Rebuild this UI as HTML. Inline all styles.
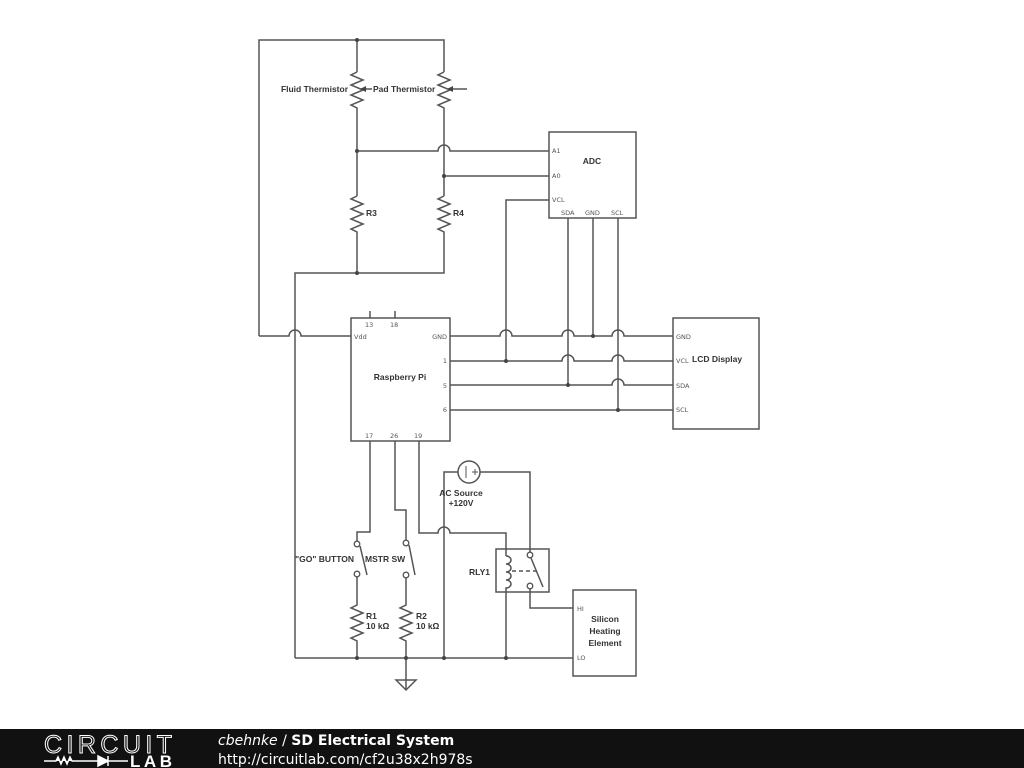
<!DOCTYPE html>
<html><head><style>
body{margin:0;width:1024px;height:768px;overflow:hidden;background:#fff;font-family:"Liberation Sans",sans-serif}
svg{position:absolute;left:0;top:0}
</style></head><body>
<svg width="1024" height="768" viewBox="0 0 1024 768">
<g stroke="#555" stroke-width="1.5" fill="none">
<path d="M259 336V40H444V72"/>
<path d="M357 40V72"/>
<path d="M357 72l-6 3l12 5l-12 5l12 5l-12 5l12 5l-12 5l6 3V196"/>
<path d="M444 72l-6 3l12 5l-12 5l12 5l-12 5l12 5l-12 5l6 3V196"/>
<path d="M372 89H361M467 89H448"/>
<path d="M357 151H438a6 6 0 0 1 12 0H549M444 176H549"/>
<path d="M357 196l-6 3l12 5l-12 5l12 5l-12 5l12 5l-12 5l6 3V273"/>
<path d="M444 196l-6 3l12 5l-12 5l12 5l-12 5l12 5l-12 5l6 3V273H295V658"/>
<path d="M259 336H289a6 6 0 0 1 12 0H351"/>
<rect x="549" y="132" width="87" height="86"/>
<path d="M549 200H506V361M568 218V385M593 218V336M618 218V410"/>
<rect x="351" y="318" width="99" height="123"/>
<path d="M370 311V318M395 311V318"/>
<path d="M450 336H500a6 6 0 0 1 12 0H562a6 6 0 0 1 12 0H612a6 6 0 0 1 12 0H673"/>
<path d="M450 361H562a6 6 0 0 1 12 0H612a6 6 0 0 1 12 0H673"/>
<path d="M450 385H612a6 6 0 0 1 12 0H673"/>
<path d="M450 410H673"/>
<rect x="673" y="318" width="86" height="111"/>
<path d="M370 441V532H357V541"/>
<path d="M395 441V510H406V540"/>
<path d="M419 441V533H438a6 6 0 0 1 12 0H506V556"/>
<path d="M360 546L367 575M409 545L415 575"/>
<path d="M357 577V605l-6 3l12 5l-12 5l12 5l-12 5l12 5l-12 5l6 3V658"/>
<path d="M406 578V605l-6 3l12 5l-12 5l12 5l-12 5l12 5l-12 5l6 3V690"/>
<path d="M396 680H416L406 690Z"/>
<path d="M295 658H573"/>
<path d="M458 472H444V658M480 472H530V552"/>
<circle cx="469" cy="472" r="11"/>
<path d="M466 466V478M472 472H478M475 469V475" stroke-width="1"/>
<rect x="496" y="549" width="53" height="43"/>
<path d="M506 556a5 4 0 0 1 0 8a5 4 0 0 1 0 8a5 4 0 0 1 0 8a5 4 0 0 1 0 8V658"/>
<path d="M512 571H540" stroke-dasharray="4,3"/>
<path d="M531 558L543 587"/>
<path d="M530 589V608H573"/>
<rect x="573" y="590" width="63" height="86"/>
</g>
<g fill="#fff" stroke="#555" stroke-width="1.3">
<circle cx="357" cy="544" r="2.8"/><circle cx="357" cy="574" r="2.8"/>
<circle cx="406" cy="543" r="2.8"/><circle cx="406" cy="575" r="2.8"/>
<circle cx="530" cy="555" r="2.8"/><circle cx="530" cy="586" r="2.8"/>
</g>
<g fill="#444">
<circle cx="357" cy="40" r="2"/><circle cx="357" cy="151" r="2"/><circle cx="444" cy="176" r="2"/>
<circle cx="357" cy="273" r="2"/><circle cx="506" cy="361" r="2"/><circle cx="568" cy="385" r="2"/>
<circle cx="593" cy="336" r="2"/><circle cx="618" cy="410" r="2"/>
<circle cx="357" cy="658" r="2"/><circle cx="406" cy="658" r="2"/><circle cx="444" cy="658" r="2"/><circle cx="506" cy="658" r="2"/>
<path d="M360 89l6-3v6z"/><path d="M447 89l6-3v6z"/>
</g>
<g font-family="Liberation Sans,sans-serif" font-size="8.5" font-weight="bold" fill="#333">
<text x="348" y="92" text-anchor="end">Fluid Thermistor</text>
<text x="373" y="92">Pad Thermistor</text>
<text x="366" y="216">R3</text><text x="453" y="216">R4</text>
<text x="592" y="164" text-anchor="middle">ADC</text>
<text x="400" y="380" text-anchor="middle">Raspberry Pi</text>
<text x="692" y="362">LCD Display</text>
<text x="461" y="496" text-anchor="middle">AC Source</text>
<text x="461" y="506" text-anchor="middle">+120V</text>
<text x="354" y="562" text-anchor="end">"GO" BUTTON</text>
<text x="365" y="562">MSTR SW</text>
<text x="490" y="575" text-anchor="end">RLY1</text>
<text x="366" y="619">R1</text><text x="366" y="629">10 kΩ</text>
<text x="416" y="619">R2</text><text x="416" y="629">10 kΩ</text>
<text x="605" y="622" text-anchor="middle">Silicon</text>
<text x="605" y="634" text-anchor="middle">Heating</text>
<text x="605" y="646" text-anchor="middle">Element</text>
</g>
<g font-family="DejaVu Sans,sans-serif" font-size="6.5" fill="#555">
<text x="552" y="153">A1</text><text x="552" y="178">A0</text><text x="552" y="202">VCL</text>
<text x="561" y="215">SDA</text><text x="585" y="215">GND</text><text x="611" y="215">SCL</text>
<text x="365" y="327">13</text><text x="390" y="327">18</text>
<text x="354" y="339">Vdd</text><text x="447" y="339" text-anchor="end">GND</text>
<text x="447" y="363" text-anchor="end">1</text><text x="447" y="388" text-anchor="end">5</text><text x="447" y="412" text-anchor="end">6</text>
<text x="365" y="438">17</text><text x="390" y="438">26</text><text x="414" y="438">19</text>
<text x="676" y="339">GND</text><text x="676" y="363">VCL</text><text x="676" y="388">SDA</text><text x="676" y="412">SCL</text>
<text x="577" y="611">HI</text><text x="577" y="660">LO</text>
</g>
<rect x="0" y="729" width="1024" height="39" fill="#111"/>
<text x="44" y="753" font-family="Liberation Sans,sans-serif" font-size="25" fill="none" stroke="#fff" stroke-width="1" textLength="128" lengthAdjust="spacing">CIRCUIT</text>
<path d="M44 761H56l2-4l3 7l3-7l3 7l3-7l2 4H98M98 756v10l10-5z M108 756v10M108 761H128" stroke="#fff" stroke-width="1.5" fill="#fff"/>
<text x="130" y="767" font-family="Liberation Sans,sans-serif" font-size="17" font-weight="bold" fill="#fff" textLength="42">LAB</text>
<text x="218" y="745" font-family="DejaVu Sans,sans-serif" font-size="14" fill="#fff"><tspan font-style="italic">cbehnke</tspan> / <tspan font-weight="bold">SD Electrical System</tspan></text>
<text x="218" y="764" font-family="DejaVu Sans,sans-serif" font-size="14" fill="#fff">http://circuitlab.com/cf2u38x2h978s</text>
</svg>
</body></html>
